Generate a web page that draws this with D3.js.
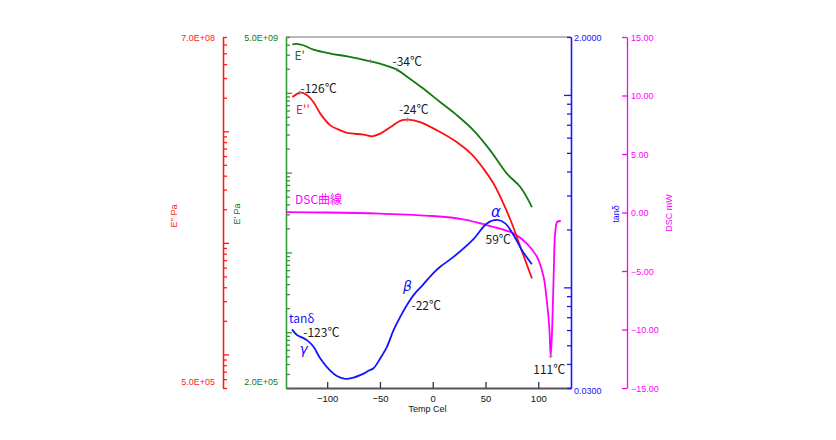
<!DOCTYPE html>
<html><head><meta charset="utf-8">
<script src="https://cdn.jsdelivr.net/npm/d3@7"></script>
<style>
html,body{margin:0;padding:0;background:#fff;}
svg{display:block;}
</style></head>
<body>
<svg id="c" width="836" height="440"></svg>
<script>
// ---------------- data ----------------
const eTemp   = [-133, -129, -122.6, -113, -97, -81, -59, -50, -34, -24, -9, 7, 23, 38.6, 54.5, 70.3, 83, 94];
const eValues = [4.05e9, 4.1e9, 3.94e9, 3.47e9, 3.10e9, 2.86e9, 2.48e9, 2.32e9, 1.95e9, 1.58e9, 1.13e9, 7.66e8, 5.22e8, 3.39e8, 1.90e8, 9.7e7, 6.6e7, 3.7e7];

const e2Temp   = [-133, -127, -125, -119, -113, -106.5, -97, -87.6, -81, -65.6, -57.6, -49.7, -40, -30.8, -23, -12, 4, 23, 37, 48, 57.6, 67, 75, 83, 94];
const e2Values = [2.03e8, 2.20e8, 2.23e8, 2.10e8, 1.83e8, 1.44e8, 1.13e8, 1.02e8, 9.66e7, 9.34e7, 9.02e7, 9.53e7, 1.09e8, 1.24e8, 1.27e8, 1.21e8, 1.02e8, 7.97e7, 6.2e7, 4.63e7, 3.40e7, 2.25e7, 1.49e7, 9.2e6, 4.79e6];

const tanTemp   = [-133.3, -128.6, -123.9, -119.2, -112.9, -106.5, -97.1, -90.8, -82.9, -75, -67.1, -60.8, -56.1, -49.7, -43.4, -37.1, -30.8, -24.4, -18.2, -8.7, 0.8, 7.1, 19.7, 38.6, 51.3, 60.8, 68.7, 76.5, 84.5, 93.9];
const tanValues = [0.0605, 0.0565, 0.0550, 0.0532, 0.0491, 0.0427, 0.0369, 0.0346, 0.0335, 0.0340, 0.0353, 0.0369, 0.0380, 0.0428, 0.0491, 0.0600, 0.0703, 0.0809, 0.0912, 0.104, 0.119, 0.128, 0.144, 0.178, 0.215, 0.224, 0.215, 0.187, 0.156, 0.132];

const dscTemp   = [-139, -100, -50, 0, 29, 51, 76.5, 89, 98.7, 105, 108, 110.4, 111.8, 113.2, 114.8, 116, 118, 121.4];
const dscValues = [0.03, 0.0, -0.1, -0.3, -0.58, -1.07, -1.78, -2.64, -3.78, -5.49, -7.48, -9.76, -12.3, -9.76, -4.63, -1.78, -0.79, -0.73];

const xTicks = [-100, -50, 0, 50, 100];
const dscTicks = [15, 10, 5, 0, -5, -10, -15];
const dscTickLabels = ["15.00", "10.00", "5.00", "0.00", "\u22125.00", "\u221210.00", "\u221215.00"];
const redDomain = [5e5, 7e8],   redTickLabels = ["7.0E+08", "5.0E+05"];
const greenDomain = [2e5, 5e9], greenTickLabels = ["5.0E+09", "2.0E+05"];
const blueDomain = [0.03, 2.0], blueTickLabels = ["2.0000", "0.0300"];
const xDomain = [-139, 131];

// small markers on curves: [series, temperature, value]
const markers = [["e", -59, 2.48e9], ["e", -34, 1.95e9], ["e2", -126, 2.22e8], ["e2", -24, 1.27e8], ["dsc", 111.8, -12.3]];

// ---------------- layout ----------------
const L = 286, R = 571, T = 37, B = 388;
const RED = "#ff1a1a", GREEN_AX = "#339933", GREEN = "#117a11", BLUE = "#1414ff", MAG = "#ff00ff";

const svg = d3.select("#c");
const x = d3.scaleLinear(xDomain, [L, R]);
const yRed = d3.scaleLog(redDomain, [B, T]);
const yGreen = d3.scaleLog(greenDomain, [B, T]);
const yBlue = d3.scaleLog(blueDomain, [B, T]);
const yMag = d3.scaleLinear([-15, 15], [B, T]);

function logTicks(dom) {
  const out = [];
  for (let e = Math.floor(Math.log10(dom[0])); e <= Math.ceil(Math.log10(dom[1])); e++)
    for (let m = 1; m <= 9; m++) {
      const v = m * Math.pow(10, e);
      if (v >= dom[0] * 0.999 && v <= dom[1] * 1.001) out.push({v, major: m === 1});
    }
  return out;
}
const tickFont = "'Liberation Sans', Arial, sans-serif";
const annFont = "'Noto Sans CJK JP', 'Noto Sans', sans-serif";

function logAxis(scale, dom, xpos, dir, color, majorLen, minorLen) {
  const t = logTicks(dom);
  const mk = dir === "right" ? d3.axisRight : d3.axisLeft;
  const gMin = svg.append("g").attr("transform", `translate(${xpos},0)`)
    .call(mk(scale).tickValues(t.filter(d => !d.major).map(d => d.v)).tickSize(minorLen).tickSizeOuter(0).tickFormat(""));
  const gMaj = svg.append("g").attr("transform", `translate(${xpos},0)`)
    .call(mk(scale).tickValues(t.filter(d => d.major).map(d => d.v)).tickSize(majorLen).tickSizeOuter(0).tickFormat(""));
  [gMin, gMaj].forEach(g => {
    g.selectAll("path,line").attr("stroke", color).attr("stroke-width", 1.3);
  });
}

// frame top line
svg.append("line").attr("x1", L).attr("x2", R).attr("y1", T).attr("y2", T).attr("stroke", "#777").attr("stroke-width", 1.2);

// X axis
const gx = svg.append("g").attr("transform", `translate(0,${B})`)
  .call(d3.axisBottom(x).tickValues(xTicks).tickSize(-6).tickSizeOuter(0).tickPadding(7));
gx.select(".domain").attr("stroke", "#555").attr("stroke-width", 1.8);
gx.selectAll(".tick line").attr("stroke", "#333").attr("stroke-width", 1.3);
gx.selectAll("text").attr("font-family", tickFont).attr("font-size", 9.5).attr("fill", "#111");
svg.append("text").attr("x", (L + R) / 2 - 1).attr("y", 412).attr("text-anchor", "middle")
  .attr("font-family", tickFont).attr("font-size", 9).attr("fill", "#111").text("Temp Cel");

// Red axis
logAxis(yRed, redDomain, 223, "right", RED, 6, 4);
svg.append("text").attr("x", 215).attr("y", yRed(redDomain[1]) + 3.5).attr("text-anchor", "end")
  .attr("font-family", tickFont).attr("font-size", 9).attr("fill", RED).text(redTickLabels[0]);
svg.append("text").attr("x", 215).attr("y", yRed(redDomain[0]) - 3.5).attr("text-anchor", "end")
  .attr("font-family", tickFont).attr("font-size", 9).attr("fill", RED).text(redTickLabels[1]);
svg.append("text").attr("transform", "translate(177,216) rotate(-90)").attr("text-anchor", "middle")
  .attr("font-family", tickFont).attr("font-size", 9).attr("fill", RED).text("E'' Pa");

// Green axis
logAxis(yGreen, greenDomain, L, "right", GREEN_AX, 6, 4);
svg.append("text").attr("x", 278).attr("y", yGreen(greenDomain[1]) + 3.5).attr("text-anchor", "end")
  .attr("font-family", tickFont).attr("font-size", 9).attr("fill", GREEN).text(greenTickLabels[0]);
svg.append("text").attr("x", 278).attr("y", yGreen(greenDomain[0]) - 3.5).attr("text-anchor", "end")
  .attr("font-family", tickFont).attr("font-size", 9).attr("fill", GREEN).text(greenTickLabels[1]);
svg.append("text").attr("transform", "translate(240,214) rotate(-90)").attr("text-anchor", "middle")
  .attr("font-family", tickFont).attr("font-size", 9).attr("fill", GREEN).text("E' Pa");

// Blue axis
logAxis(yBlue, blueDomain, R, "left", BLUE, 7, 4);
svg.append("text").attr("x", 574).attr("y", yBlue(blueDomain[1]) + 4).attr("text-anchor", "start")
  .attr("font-family", tickFont).attr("font-size", 9).attr("fill", BLUE).text(blueTickLabels[0]);
svg.append("text").attr("x", 574).attr("y", yBlue(blueDomain[0]) + 6).attr("text-anchor", "start")
  .attr("font-family", tickFont).attr("font-size", 9).attr("fill", BLUE).text(blueTickLabels[1]);
svg.append("text").attr("transform", "translate(619,214) rotate(-90)").attr("text-anchor", "middle")
  .attr("font-family", tickFont).attr("font-size", 9).attr("fill", BLUE).text("tan\u03b4");

// Magenta axis
const gm = svg.append("g").attr("transform", "translate(627,0)")
  .call(d3.axisLeft(yMag).tickValues(dscTicks).tickSize(5).tickSizeOuter(0).tickFormat(""));
gm.selectAll("path,line").attr("stroke", MAG).attr("stroke-width", 1.3);
svg.selectAll(".dsclab").data(dscTicks).join("text").attr("class", "dsclab")
  .attr("x", 631).attr("y", d => yMag(d) + 3.5)
  .attr("font-family", tickFont).attr("font-size", 9).attr("fill", MAG)
  .text((d, i) => dscTickLabels[i]);
svg.append("text").attr("transform", "translate(672,213) rotate(-90)").attr("text-anchor", "middle")
  .attr("font-family", tickFont).attr("font-size", 9).attr("fill", MAG).text("DSC mW");

// ---------------- curves ----------------
function drawCurve(xs, ys, yScale, color) {
  const line = d3.line().x(d => x(d[0])).y(d => yScale(d[1])).curve(d3.curveCatmullRom.alpha(0.5));
  svg.append("path").attr("d", line(xs.map((t, i) => [t, ys[i]])))
    .attr("fill", "none").attr("stroke", color).attr("stroke-width", 1.8).attr("stroke-linejoin", "round");
}
drawCurve(dscTemp, dscValues, yMag, MAG);
drawCurve(eTemp, eValues, yGreen, GREEN);
drawCurve(e2Temp, e2Values, yRed, "#ff1010");
drawCurve(tanTemp, tanValues, yBlue, BLUE);

// markers
const scaleOf = {e: yGreen, e2: yRed, dsc: yMag};
markers.forEach(([s, t, v]) => {
  const px = x(t), py = scaleOf[s](v);
  svg.append("path").attr("d", `M${px - 2},${py}H${px + 2}M${px},${py - 2}V${py + 2}`)
    .attr("stroke", "#777").attr("stroke-width", 0.8);
});

// ---------------- annotations ----------------
function ann(txt, px, py, color, size, italic, family) {
  svg.append("text").attr("x", px).attr("y", py).attr("fill", color)
    .attr("font-family", family || annFont).attr("font-size", size)
    .attr("font-style", italic ? "italic" : "normal").text(txt);
}
const K = "#1a1a1a";
ann("E'", 294.5, 59.5, GREEN, 12);
ann("E''", 296, 113.5, RED, 12);
ann("-126\u2103", 300.5, 93, K, 12);
ann("-34\u2103", 392.5, 66, K, 12);
ann("-24\u2103", 399, 113.5, K, 12);
ann("DSC\u66f2\u7dda", 295, 204, MAG, 12);
ann("\u03b1", 491, 216.5, BLUE, 15, true, "'DejaVu Sans', sans-serif");
ann("59\u2103", 485.5, 244, K, 12);
ann("\u03b2", 403, 291, BLUE, 14, true, "'DejaVu Sans', sans-serif");
ann("-22\u2103", 411.5, 310, K, 12);
ann("tan\u03b4", 289, 323.3, BLUE, 12);
ann("-123\u2103", 303.3, 337, K, 12);
ann("\u03b3", 299.5, 354, BLUE, 14, true, "'DejaVu Sans', sans-serif");
ann("111\u2103", 533.3, 374, K, 12);
</script>
</body></html>
